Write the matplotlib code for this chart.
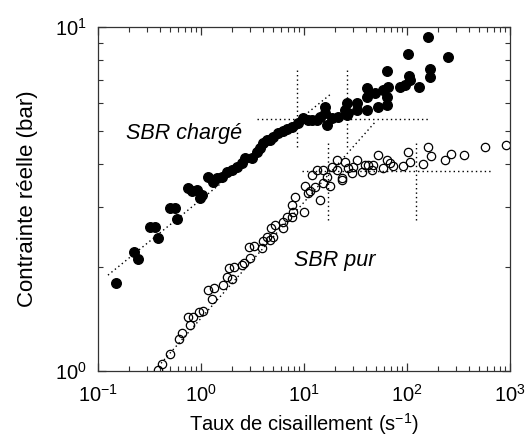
import matplotlib
matplotlib.use("Agg")
import matplotlib.pyplot as plt
from matplotlib.ticker import LogLocator, NullFormatter

plt.rcParams['font.family'] = ['Liberation Sans', 'DejaVu Sans']
plt.rcParams['mathtext.fontset'] = 'custom'
plt.rcParams['mathtext.rm'] = 'Liberation Sans'
plt.rcParams['mathtext.it'] = 'Liberation Sans:italic'
plt.rcParams['mathtext.default'] = 'regular'
plt.rcParams['axes.unicode_minus'] = False

# SBR chargé (filled)
charge_x = [0.150, 0.224, 0.244, 0.320, 0.357, 0.383, 0.500, 0.560, 0.585, 0.748,
            0.818, 0.914, 0.978, 1.02, 1.17, 1.31, 1.43, 1.60, 1.79, 2.00,
            2.24, 2.50, 2.67, 3.13, 3.50, 3.74, 4.00, 4.38, 4.68, 5.00,
            5.60, 6.26, 6.84, 7.65, 8.74, 9.78, 10.9, 12.0, 13.4, 14.3,
            16.0, 16.0, 16.7, 18.7, 21.4, 25.0, 26.1, 26.1, 26.7, 32.7,
            32.7, 40.9, 40.9, 40.9, 48.9, 52.3, 58.5, 64.0, 64.0, 65.4,
            64.0, 85.5, 95.7, 105, 107, 102, 131, 167, 167, 160, 250]
charge_y = [1.80, 2.22, 2.12, 2.62, 2.62, 2.44, 2.98, 2.98, 2.77, 3.40,
            3.34, 3.36, 3.18, 3.25, 3.66, 3.54, 3.64, 3.66, 3.79, 3.84,
            3.92, 4.02, 4.16, 4.16, 4.33, 4.45, 4.60, 4.69, 4.69, 4.79,
            4.92, 4.99, 5.05, 5.12, 5.26, 5.44, 5.37, 5.37, 5.37, 5.47,
            5.85, 5.62, 5.19, 5.44, 5.47, 5.74, 6.01, 5.55, 5.62, 6.01,
            5.74, 6.65, 6.26, 5.74, 6.43, 5.85, 6.56, 6.26, 5.93, 6.69,
            7.45, 6.69, 6.78, 7.20, 7.01, 8.35, 6.69, 7.55, 7.16, 9.35, 8.18]

# SBR pur (open)
pur_x = [0.383, 0.418, 0.500, 0.611, 0.654, 0.782, 0.748, 0.836, 0.957, 1.05,
         1.28, 1.17, 1.34, 1.64, 1.79, 2.00, 1.87, 2.09, 2.50, 2.61,
         2.99, 2.92, 3.27, 3.91, 4.00, 4.38, 5.00, 4.68, 4.79, 5.23,
         6.26, 6.26, 6.84, 7.65, 7.82, 10.0, 7.65, 8.18, 10.9, 11.4,
         10.2, 12.8, 14.3, 15.3, 17.9, 23.4, 12.0, 13.4, 15.3, 16.7,
         18.7, 20.9, 20.9, 25.0, 23.4, 26.7, 29.2, 32.7, 29.9, 36.6,
         39.1, 41.8, 45.7, 46.8, 52.3, 58.5, 64.0, 68.4, 73.1, 91.4,
         102, 107, 143, 160, 171, 234, 267, 357, 571, 914]
pur_y = [1.01, 1.05, 1.12, 1.24, 1.29, 1.36, 1.44, 1.44, 1.48, 1.49,
         1.62, 1.72, 1.74, 1.78, 1.88, 1.85, 1.99, 2.01, 2.03, 2.06,
         2.13, 2.29, 2.31, 2.28, 2.39, 2.45, 2.45, 2.40, 2.60, 2.66,
         2.60, 2.71, 2.80, 2.80, 2.90, 2.90, 3.04, 3.20, 3.29, 3.33,
         3.45, 3.43, 3.14, 3.52, 3.45, 3.59, 3.71, 3.84, 3.84, 3.66,
         3.92, 3.84, 4.11, 4.05, 3.64, 3.89, 3.76, 4.11, 3.92, 3.79,
         3.97, 3.97, 3.84, 3.97, 4.25, 3.89, 4.11, 4.02, 3.94, 3.94,
         4.33, 4.05, 4.00, 4.48, 4.22, 4.11, 4.27, 4.25, 4.48, 4.54]

# dotted guide lines (x pairs, y pairs)
fit_charge_x = [0.125, 18.7]
fit_charge_y = [1.90, 6.43]
fit_pur_x = [0.383, 48.9]
fit_pur_y = [1.03, 5.29]
h_charge_x = [3.50, 167]
h_charge_y = [5.40, 5.40]
v_charge_xs = [8.55, 26.1]
v_charge_y = [4.48, 7.60]
h_pur_x = [9.57, 668]
h_pur_y = [3.81, 3.81]
v_pur_xs = [17.1, 122]
v_pur_y = [2.75, 4.69]

fig = plt.figure(figsize=(5.28, 4.44), dpi=100)
ax = fig.add_axes([0.1856, 0.1644, 0.7804, 0.7746])

dot = dict(color='black', linewidth=1.0, linestyle=(0, (1, 2.2)))
ax.plot(fit_charge_x, fit_charge_y, **dot)
ax.plot(fit_pur_x, fit_pur_y, **dot)
ax.plot(h_charge_x, h_charge_y, **dot)
for xv in v_charge_xs:
    ax.plot([xv, xv], v_charge_y, **dot)
ax.plot(h_pur_x, h_pur_y, **dot)
for xv in v_pur_xs:
    ax.plot([xv, xv], v_pur_y, **dot)

ax.plot(charge_x, charge_y, 'o', color='black', markersize=6.9, linestyle='none')
ax.plot(pur_x, pur_y, 'o', markerfacecolor='none', markeredgecolor='black',
        markeredgewidth=0.9, markersize=6.0, linestyle='none')

ax.set_xscale('log')
ax.set_yscale('log')
ax.set_xlim(0.1, 1000)
ax.set_ylim(1, 10)

ax.xaxis.set_major_locator(LogLocator(base=10, numticks=10))
ax.xaxis.set_minor_locator(LogLocator(base=10, subs=range(2, 10), numticks=20))
ax.xaxis.set_minor_formatter(NullFormatter())
ax.yaxis.set_major_locator(LogLocator(base=10, numticks=10))
ax.yaxis.set_minor_locator(LogLocator(base=10, subs=range(2, 10), numticks=20))
ax.yaxis.set_minor_formatter(NullFormatter())

ax.tick_params(which='both', direction='in', top=True, right=True, labelsize=14.5, color='#333333')
ax.tick_params(which='major', length=6, width=0.9)
ax.tick_params(axis='x', which='major', pad=9)
ax.tick_params(axis='y', which='major', pad=8)
ax.tick_params(which='minor', length=3.5, width=0.8)
for s in ax.spines.values():
    s.set_linewidth(0.9)
    s.set_color('#333333')

ax.set_xlabel('Taux de cisaillement (s$^{-1}$)', fontsize=14.5, labelpad=4)
ax.set_ylabel('Contrainte réelle (bar)', fontsize=16, labelpad=12)

ax.text(0.187, 4.92, 'SBR chargé', fontsize=15.5, style='italic', ha='left', va='center')
ax.text(8.0, 2.10, 'SBR pur', fontsize=15.5, style='italic', ha='left', va='center')

fig.savefig('out.png', dpi=100)
